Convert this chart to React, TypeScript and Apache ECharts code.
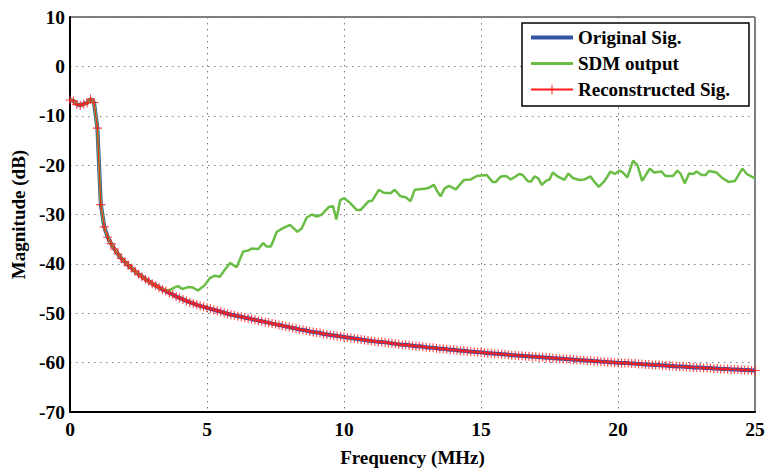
import React, { useEffect, useRef } from "react";
import * as echarts from "echarts";

// Original signal magnitude (dB), sampled every 0.125 MHz from 0 to 25 MHz
const originalDb: number[] = [
  -6.8, -7.0, -7.7, -7.9, -7.6, -7.4, -6.6, -7.3, -12.5, -28.0,
  -32.5, -34.6, -35.9, -37.0, -38.0, -38.9, -39.6, -40.3, -40.9, -41.5,
  -42.1, -42.6, -43.1, -43.5, -44.0, -44.4, -44.8, -45.2, -45.5, -45.9,
  -46.2, -46.6, -46.9, -47.2, -47.5, -47.8, -48.0, -48.3, -48.5, -48.7,
  -48.9, -49.1, -49.3, -49.5, -49.7, -49.9, -50.1, -50.3, -50.4, -50.6,
  -50.7, -50.9, -51.0, -51.2, -51.3, -51.5, -51.6, -51.8, -51.9, -52.1,
  -52.2, -52.4, -52.5, -52.7, -52.8, -53.0, -53.1, -53.3, -53.4, -53.5,
  -53.7, -53.8, -53.9, -54.0, -54.2, -54.3, -54.4, -54.5, -54.6, -54.7,
  -54.8, -54.9, -55.0, -55.1, -55.2, -55.3, -55.4, -55.5, -55.6, -55.7,
  -55.8, -55.8, -55.9, -56.0, -56.1, -56.2, -56.3, -56.4, -56.4, -56.5,
  -56.6, -56.7, -56.7, -56.8, -56.9, -57.0, -57.0, -57.1, -57.2, -57.2,
  -57.3, -57.4, -57.4, -57.5, -57.6, -57.6, -57.7, -57.8, -57.8, -57.9,
  -57.9, -58.0, -58.1, -58.1, -58.2, -58.2, -58.3, -58.3, -58.4, -58.5,
  -58.5, -58.6, -58.6, -58.7, -58.7, -58.8, -58.8, -58.9, -58.9, -59.0,
  -59.0, -59.1, -59.1, -59.2, -59.2, -59.3, -59.3, -59.4, -59.4, -59.5,
  -59.5, -59.6, -59.6, -59.7, -59.7, -59.8, -59.8, -59.9, -59.9, -60.0,
  -60.0, -60.1, -60.1, -60.1, -60.2, -60.2, -60.3, -60.3, -60.4, -60.4,
  -60.5, -60.5, -60.5, -60.6, -60.6, -60.7, -60.7, -60.8, -60.8, -60.8,
  -60.9, -60.9, -61.0, -61.0, -61.0, -61.1, -61.1, -61.1, -61.2, -61.2,
  -61.3, -61.3, -61.3, -61.4, -61.4, -61.4, -61.5, -61.5, -61.5, -61.6,
  -61.6,
];
const FREQ_STEP = 0.125;
const originalFreq: number[] = originalDb.map((_, i) => i * FREQ_STEP);

// Reconstructed signal overlaps the original
const reconstructedDb: number[] = originalDb.slice();
const reconstructedFreq: number[] = originalFreq.slice();

// SDM output (frequency MHz, magnitude dB)
const sdmFreq: number[] = [
  0, 0.125, 0.25, 0.375, 0.5, 0.625, 0.75, 0.875, 1.0, 1.125, 1.25, 1.375, 1.5, 1.75, 2, 2.25, 2.5, 2.75, 3, 3.25, 3.5,
  3.65, 3.8, 3.94, 4.1, 4.31, 4.49, 4.67, 4.92, 5.1, 5.29, 5.47, 5.65, 5.84, 6.08, 6.32, 6.51, 6.63, 6.87, 7.05,
  7.18, 7.33, 7.55, 7.79, 8.03, 8.3, 8.46, 8.64, 8.83, 9.01, 9.19, 9.44, 9.6, 9.72, 9.86, 10.01, 10.23, 10.47, 10.6,
  10.9, 11.03, 11.27, 11.45, 11.7, 11.85, 12.06, 12.25, 12.43, 12.58, 12.94, 13.1, 13.28, 13.41, 13.53, 13.67, 13.83,
  14.08, 14.38, 14.63, 14.85, 15.21, 15.42, 15.54, 15.73, 15.91, 16.09, 16.4, 16.52, 16.7, 16.82, 16.95, 17.09, 17.22,
  17.37, 17.5, 17.62, 17.8, 18.04, 18.19, 18.35, 18.59, 18.78, 19.0, 19.14, 19.3, 19.51, 19.73, 19.88, 20.06, 20.18,
  20.34, 20.55, 20.71, 20.88, 21.16, 21.32, 21.59, 21.73, 22.01, 22.17, 22.29, 22.44, 22.59, 22.75, 22.87, 23.05, 23.2,
  23.32, 23.6, 23.78, 24.03, 24.27, 24.54, 24.7, 25,
];
const sdmDb: number[] = [
  -6.8, -7.0, -7.7, -7.9, -7.6, -7.4, -6.6, -7.3, -12.5, -28, -32.5, -34.6, -35.9, -38, -39.6, -40.9, -42.1, -43.1, -44, -44.8, -45.4,
  -45.3, -44.8, -44.5, -45.1, -44.7, -44.8, -45.4, -44.3, -42.9, -42.4, -42.6, -41.2, -39.8, -40.7, -37.5, -37.3, -36.9, -37.0, -35.8,
  -36.5, -36.5, -33.5, -32.7, -32.1, -33.5, -32.8, -30.6, -30.0, -30.4, -30.0, -28.5, -28.3, -31.0, -27.1, -26.7, -27.7, -29.1, -29.1,
  -27.3, -27.2, -25.0, -25.6, -25.7, -25.0, -26.3, -26.5, -27.3, -25.0, -24.8, -24.6, -24.0, -25.4, -26.3, -24.7, -24.2,
  -24.9, -23.0, -22.9, -22.2, -22.0, -23.4, -23.4, -22.3, -22.2, -22.9, -21.8, -22.0, -23.2, -23.4, -22.3, -22.7, -24.0,
  -23.2, -22.9, -21.5, -22.3, -23.0, -21.7, -22.6, -23.0, -22.9, -22.3, -23.4, -24.4, -23.2, -21.3, -21.8, -21.1, -21.5,
  -22.5, -19.1, -20.0, -23.2, -20.7, -21.5, -21.3, -22.2, -22.2, -21.1, -21.8, -23.7, -21.7, -21.8, -21.3, -22.0, -22.0,
  -21.2, -21.5, -22.5, -23.4, -23.2, -20.7, -21.8, -22.7,
];

const seriesNames = ["Original Sig.", "SDM output", "Reconstructed Sig."];
const xTicks = { min: 0, max: 25, interval: 5 };
const yTicks = { min: -70, max: 10, interval: 10 };

const FONT = "'Liberation Serif', 'Times New Roman', serif";
const PLUS = "path://M0,4.4H10V5.6H0Z M4.4,0H5.6V10H4.4Z";
const BLUE = "#3553a3";
const GREEN = "#69bd45";
const RED = "#ff1a1a";

export default function App() {
  const ref = useRef<HTMLDivElement>(null);
  useEffect(() => {
    if (!ref.current) return;
    const chart = echarts.init(ref.current, null, { renderer: "svg" });
    const zip = (xs: number[], ys: number[]) => xs.map((x, i) => [x, ys[i]]);
    const gridLine = { show: true, lineStyle: { color: "#7a7a7a", width: 1, type: [1.5, 4.5] as number[] } };
    chart.setOption({
      animation: false,
      backgroundColor: "#ffffff",
      textStyle: { fontFamily: FONT },
      grid: {
        left: 70, right: 12, top: 17, bottom: 57,
        outerBoundsMode: "none",
        containLabel: false,
        show: true, borderColor: "#000", borderWidth: 1, backgroundColor: "transparent",
      },
      legend: {
        data: [
          { name: seriesNames[0], icon: "path://M0,0H42V4.2H0Z", itemStyle: { color: BLUE } },
          { name: seriesNames[1], icon: "path://M0,0H42V3H0Z", itemStyle: { color: GREEN } },
          { name: seriesNames[2] },
        ],
        orient: "vertical",
        left: 522,
        top: 23,
        padding: [5, 19, 7, 8],
        itemWidth: 42,
        itemHeight: 12,
        itemGap: 7,
        backgroundColor: "#fff",
        borderColor: "#000",
        borderWidth: 1.5,
        borderRadius: 0,
        textStyle: { fontFamily: FONT, fontWeight: "bold", fontSize: 19, color: "#000" },
      },
      xAxis: {
        type: "value",
        ...xTicks,
        name: "Frequency (MHz)",
        nameLocation: "middle",
        nameGap: 36,
        nameTextStyle: { fontFamily: FONT, fontWeight: "bold", fontSize: 19, color: "#000" },
        axisLine: { show: true, onZero: false, lineStyle: { color: "#000", width: 2 } },
        axisTick: { show: false },
        axisLabel: { fontFamily: FONT, fontWeight: "bold", fontSize: 19.5, color: "#000", margin: 7 },
        splitLine: gridLine,
      },
      yAxis: {
        type: "value",
        ...yTicks,
        name: "Magnitude (dB)",
        nameLocation: "middle",
        nameGap: 42,
        nameTextStyle: { fontFamily: FONT, fontWeight: "bold", fontSize: 19, color: "#000" },
        axisLine: { show: true, onZero: false, lineStyle: { color: "#000", width: 2 } },
        axisTick: { show: false },
        axisLabel: { fontFamily: FONT, fontWeight: "bold", fontSize: 19.5, color: "#000", margin: 5 },
        splitLine: gridLine,
      },
      series: [
        {
          name: seriesNames[0],
          type: "line",
          data: zip(originalFreq, originalDb),
          showSymbol: false,
          symbol: "none",
          lineStyle: { color: BLUE, width: 4 },
          itemStyle: { color: BLUE },
          z: 2,
        },
        {
          name: seriesNames[1],
          type: "line",
          data: zip(sdmFreq, sdmDb),
          showSymbol: false,
          symbol: "none",
          lineStyle: { color: GREEN, width: 2.5 },
          itemStyle: { color: GREEN },
          z: 3,
        },
        {
          name: seriesNames[2],
          type: "line",
          data: zip(reconstructedFreq, reconstructedDb),
          symbol: PLUS,
          symbolSize: 9,
          showSymbol: true,
          lineStyle: { color: RED, width: 1 },
          itemStyle: { color: "rgba(255,30,30,0.85)" },
          z: 4,
        },
      ],
    });
    return () => chart.dispose();
  }, []);
  return <div ref={ref} style={{ position: "fixed", left: 0, top: 0, width: 767, height: 469, background: "#fff" }} />;
}
